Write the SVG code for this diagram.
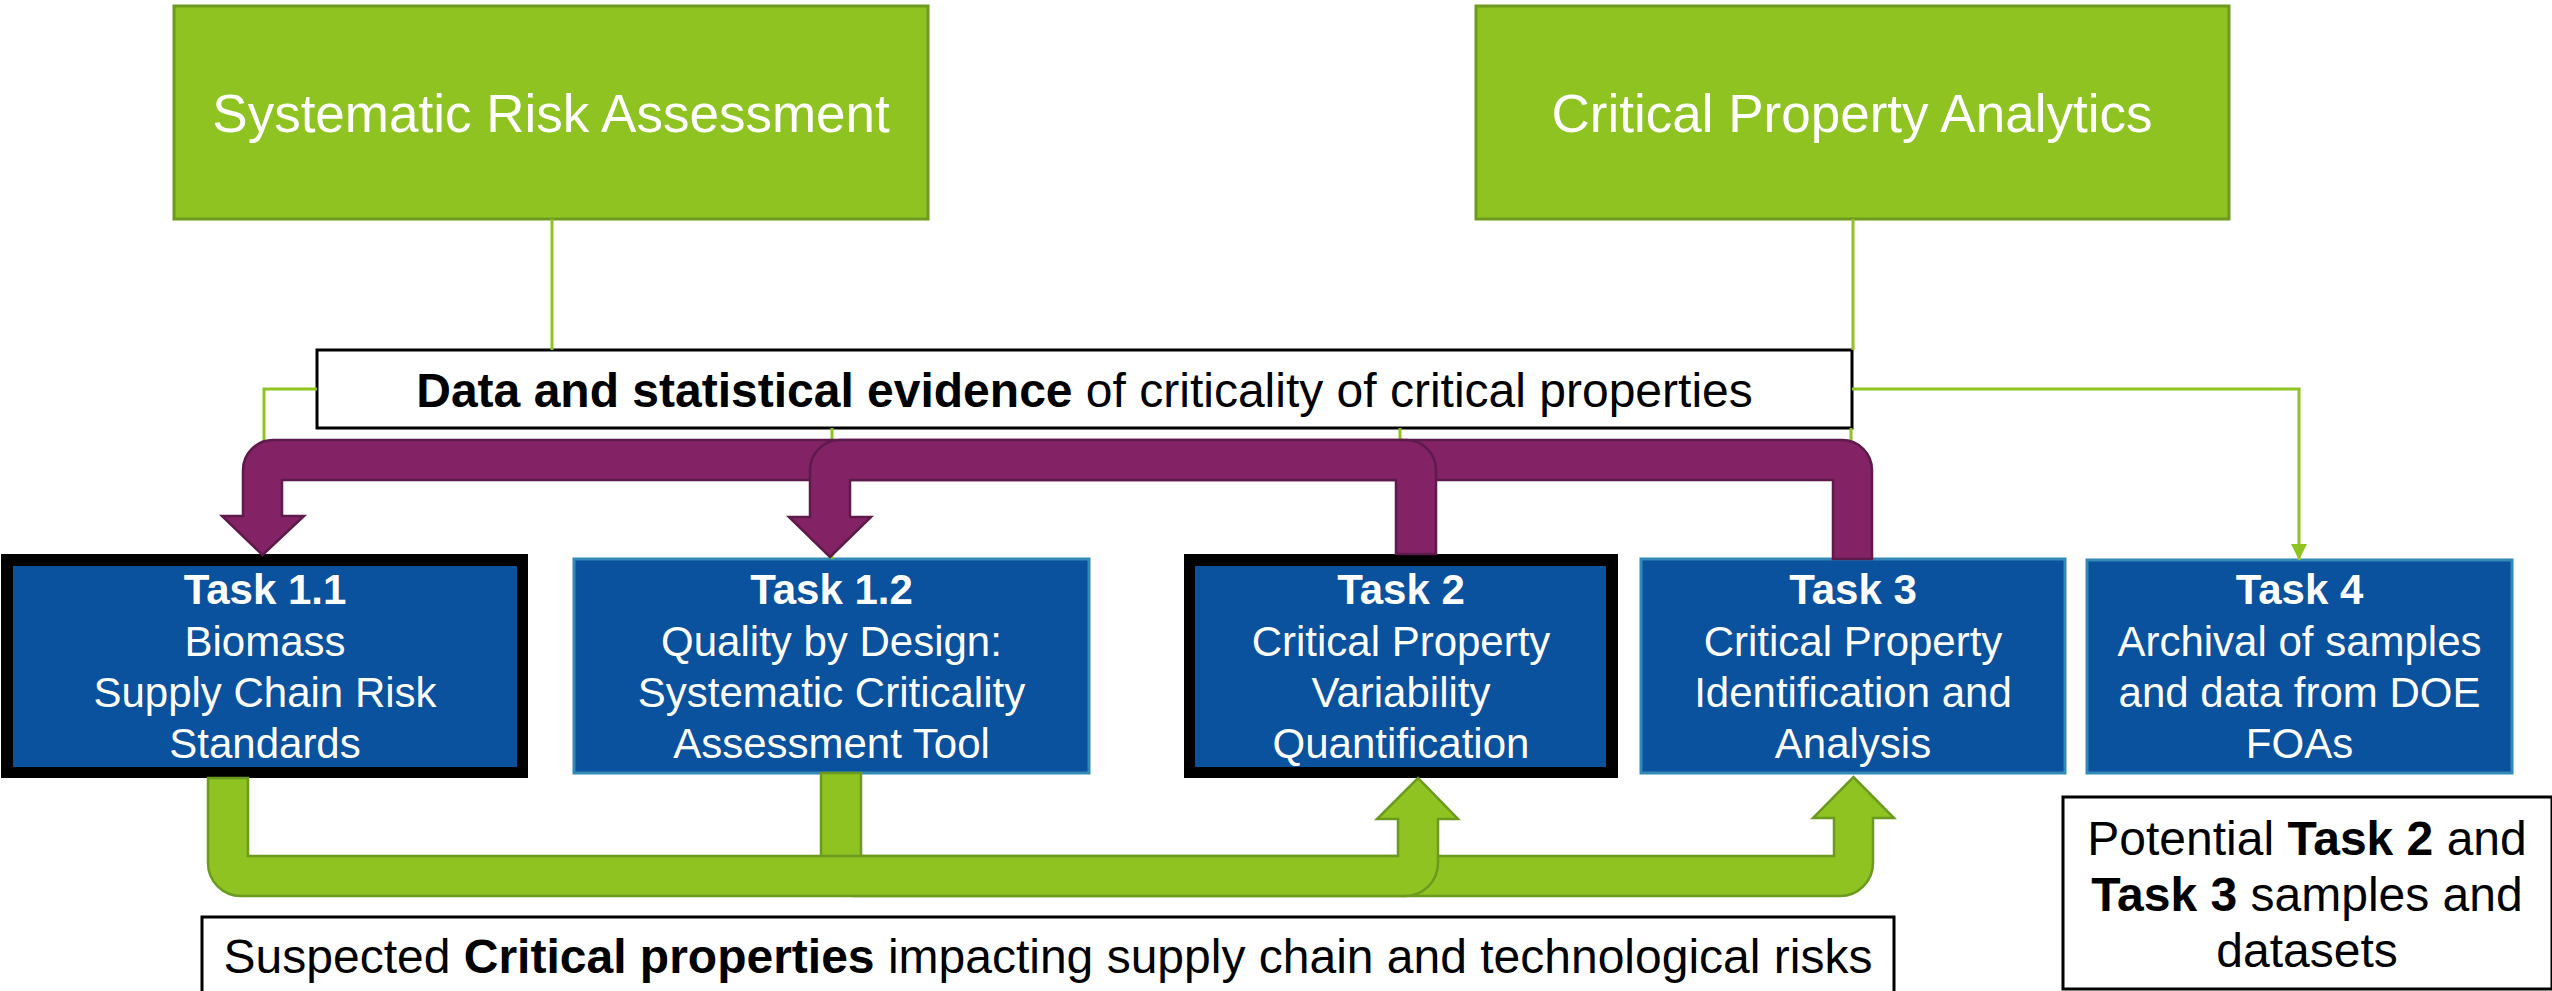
<svg xmlns="http://www.w3.org/2000/svg" width="2552" height="991" viewBox="0 0 2552 991">
  <style>
    text { font-family: "Liberation Sans", Arial, sans-serif; }
    .top-box { fill: #8EC322; stroke: #6E9A1F; stroke-width: 3; }
    .top-label { fill: #ffffff; font-size: 53px; text-anchor: middle; }
    .note-box { fill: #ffffff; stroke: #000000; stroke-width: 3; }
    .note { fill: #000000; font-size: 48px; text-anchor: middle; }
    .task { fill: #0A519E; stroke: #3389B8; stroke-width: 3; }
    .task-frame { fill: #000000; }
    .task-fill { fill: #0A519E; }
    .task-text { fill: #ffffff; font-size: 42px; text-anchor: middle; }
    .b { font-weight: bold; }
    .link { fill: none; stroke: #8EC322; stroke-width: 3; }
    .purple { fill: #832366; stroke: #5E1A4A; stroke-width: 2.5; stroke-linejoin: miter; }
    .green { fill: #8EC322; stroke: #6B9A1E; stroke-width: 2.5; stroke-linejoin: miter; }
  </style>
  <defs>
    <marker id="tip" markerUnits="userSpaceOnUse" markerWidth="18" markerHeight="18" refX="16" refY="8" orient="auto">
      <path d="M0,0 L16,8 L0,16 Z" fill="#8EC322"/>
    </marker>
  </defs>

  <!-- top programme areas -->
  <g id="systematic-risk">
    <rect class="top-box" x="174" y="6" width="754" height="213"/>
    <text class="top-label" x="551" y="132">Systematic Risk Assessment</text>
  </g>
  <g id="property-analytics">
    <rect class="top-box" x="1476" y="6" width="753" height="213"/>
    <text class="top-label" x="1852" y="132">Critical Property Analytics</text>
  </g>

  <!-- evidence banner -->
  <g id="evidence">
    <rect class="note-box" x="317" y="350" width="1535" height="78"/>
    <text class="note" x="1084.5" y="407"><tspan class="b">Data and statistical evidence</tspan> of criticality of critical properties</text>
  </g>

  <!-- task boxes -->
  <g id="task-1-1">
    <rect class="task-frame" x="1" y="554" width="527" height="224"/>
    <rect class="task-fill" x="13" y="566" width="504" height="201"/>
    <text class="task-text" x="265" y="604"><tspan class="b">Task 1.1</tspan></text>
    <text class="task-text" x="265" y="656">Biomass</text>
    <text class="task-text" x="265" y="707">Supply Chain Risk</text>
    <text class="task-text" x="265" y="758">Standards</text>
  </g>
  <g id="task-1-2">
    <rect class="task" x="574" y="559" width="515" height="214"/>
    <text class="task-text" x="831.5" y="604"><tspan class="b">Task 1.2</tspan></text>
    <text class="task-text" x="831.5" y="656">Quality by Design:</text>
    <text class="task-text" x="831.5" y="707">Systematic Criticality</text>
    <text class="task-text" x="831.5" y="758">Assessment Tool</text>
  </g>
  <g id="task-2">
    <rect class="task-frame" x="1184" y="554" width="434" height="224"/>
    <rect class="task-fill" x="1195" y="566" width="411" height="201"/>
    <text class="task-text" x="1401" y="604"><tspan class="b">Task 2</tspan></text>
    <text class="task-text" x="1401" y="656">Critical Property</text>
    <text class="task-text" x="1401" y="707">Variability</text>
    <text class="task-text" x="1401" y="758">Quantification</text>
  </g>
  <g id="task-3">
    <rect class="task" x="1641" y="559" width="424" height="214"/>
    <text class="task-text" x="1853" y="604"><tspan class="b">Task 3</tspan></text>
    <text class="task-text" x="1853" y="656">Critical Property</text>
    <text class="task-text" x="1853" y="707">Identification and</text>
    <text class="task-text" x="1853" y="758">Analysis</text>
  </g>
  <g id="task-4">
    <rect class="task" x="2087" y="560" width="425" height="213"/>
    <text class="task-text" x="2299.5" y="604"><tspan class="b">Task 4</tspan></text>
    <text class="task-text" x="2299.5" y="656">Archival of samples</text>
    <text class="task-text" x="2299.5" y="707">and data from DOE</text>
    <text class="task-text" x="2299.5" y="758">FOAs</text>
  </g>

  <!-- bottom notes -->
  <g id="suspected">
    <rect class="note-box" x="202" y="917" width="1692" height="80"/>
    <text class="note" x="1048" y="973">Suspected <tspan class="b">Critical properties</tspan> impacting supply chain and technological risks</text>
  </g>
  <g id="potential">
    <rect class="note-box" x="2063" y="797" width="489" height="192"/>
    <text class="note" x="2307" y="855">Potential <tspan class="b">Task 2</tspan> and</text>
    <text class="note" x="2307" y="911"><tspan class="b">Task 3</tspan> samples and</text>
    <text class="note" x="2307" y="967">datasets</text>
  </g>

  <g id="connectors">
    <!-- thin feed lines -->
    <path class="link" d="M552,219 V350"/>
    <path class="link" d="M1853,219 V350"/>
    <path class="link" d="M317,389 H264 V554"/>
    <path class="link" d="M832,428 V559"/>
    <path class="link" d="M1400,428 V554"/>
    <path class="link" d="M1851,428 V559"/>
    <path class="link" d="M1852,389 H2299 V560" marker-end="url(#tip)"/>

    <!-- feedback arrows: Task 3 -> Task 1.1, Task 2 -> Task 1.2 -->
    <path class="purple" d="M1872,559 V470 A30,30 0 0 0 1842,440 H273 A30,30 0 0 0 243,470 V516 H222 L262.5,555 L304,516 H282 V480 H1833 V559 Z"/>
    <path class="purple" d="M1436,554 V470 A30,30 0 0 0 1406,440 H840 A30,30 0 0 0 810,470 V517 H789 L830,557 L871,517 H850 V480 H1396 V554 Z"/>

    <!-- forward arrows: Task 1.2 -> Task 3, Task 1.1 -> Task 2 -->
    <path class="green" d="M821,773 V863 A33,33 0 0 0 854,896 H1840 A33,33 0 0 0 1873,863 V818 H1894 L1853.5,777 L1813,818 H1834 V856 H861 V773 Z"/>
    <path class="green" d="M208,778 V863 A33,33 0 0 0 241,896 H1405 A33,33 0 0 0 1438,863 V819 H1458 L1418,778 L1377,819 H1398 V856 H248 V778 Z"/>
  </g>
</svg>
